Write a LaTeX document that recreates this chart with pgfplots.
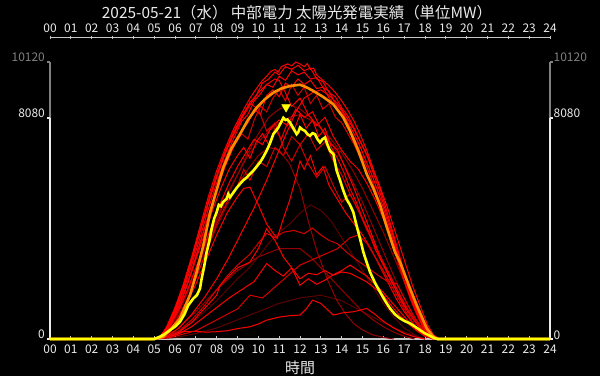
\documentclass[border=0pt]{standalone}
\usepackage{fontspec}
\setmainfont{Noto Sans CJK JP}
\usepackage{pgfplots}
\pgfplotsset{compat=1.18}
\definecolor{axgray}{RGB}{200,200,200}
\definecolor{lblwhite}{RGB}{235,235,235}
\definecolor{dimgray}{RGB}{128,128,128}
\definecolor{colA}{RGB}{255,0,0}
\definecolor{colB}{RGB}{215,0,0}
\definecolor{colC}{RGB}{150,0,0}
\definecolor{colD}{RGB}{95,0,0}
\definecolor{oline}{RGB}{255,140,0}
\definecolor{yline}{RGB}{255,255,0}
\pgfplotsset{
  lnA/.style={color=colA, line width=1bp},
  lnB/.style={color=colB, line width=1bp},
  lnC/.style={color=colC, line width=1bp},
  lnD/.style={color=colD, line width=1bp},
}
\begin{document}
\begin{tikzpicture}
\useasboundingbox (0bp,0bp) rectangle (600bp,376bp);
\fill[black] (0bp,0bp) rectangle (600bp,376bp);
\node[text=lblwhite, font=\fontsize{15.5}{18}\selectfont] at (297bp,363.5bp) {2025-05-21（水） 中部電力 太陽光発電実績（単位MW）};

% top axis
\begin{axis}[at={(50bp,328.3bp)}, anchor=south west, scale only axis,
  width=500bp, height=10bp, xmin=0, xmax=24, ymin=0, ymax=1,
  axis x line*=top, axis y line=none,
  xtick={0,...,24},
  xticklabels={00,01,02,03,04,05,06,07,08,09,10,11,12,13,14,15,16,17,18,19,20,21,22,23,24},
  tick align=center, major tick length=2.5bp,
  x axis line style={axgray, line width=1.3bp},
  xtick style={axgray, line width=1bp},
  xticklabel style={text=lblwhite, font=\fontsize{12}{14}\selectfont},
  ytick=\empty]
\end{axis}

% right axis labels
\begin{axis}[at={(50bp,37bp)}, anchor=south west, scale only axis,
  width=500bp, height=277bp, xmin=0, xmax=24, ymin=0, ymax=10120,
  axis y line*=right, axis x line=none,
  y axis line style={draw=none},
  scaled y ticks=false,
  ytick={0,8080,10120},
  yticklabels={0,8080,\textcolor{dimgray}{10120}},
  ytick style={draw=none},
  yticklabel style={text=lblwhite, font=\fontsize{12}{14}\selectfont, anchor=base west, inner sep=0pt, xshift=3.5bp}]
\end{axis}

% main axis
\begin{axis}[at={(50bp,37bp)}, anchor=south west, scale only axis,
  width=500bp, height=277bp, xmin=0, xmax=24, ymin=0, ymax=10120,
  clip=false,
  axis x line*=bottom, axis y line*=left,
  y axis line style={draw=none},
  x axis line style={axgray, line width=1.5bp},
  scaled y ticks=false,
  xtick={0,...,24},
  xticklabels={00,01,02,03,04,05,06,07,08,09,10,11,12,13,14,15,16,17,18,19,20,21,22,23,24},
  tick align=inside, major tick length=2.5bp,
  xtick style={axgray, line width=1bp},
  ytick={0,8080,10120},
  yticklabels={0,8080,\textcolor{dimgray}{10120}},
  ytick style={draw=none},
  xticklabel style={text=lblwhite, font=\fontsize{12}{14}\selectfont, yshift=-2bp},
  yticklabel style={text=lblwhite, font=\fontsize{12}{14}\selectfont, anchor=base east, inner sep=0pt, xshift=-5bp},
  xlabel={時間},
  xlabel style={text=lblwhite, font=\fontsize{15}{18}\selectfont, yshift=-1bp},
]
\draw[lblwhite, line width=1.6bp] (axis cs:0,0) -- (axis cs:0,8080);
\draw[dimgray, line width=1.6bp] (axis cs:0,8080) -- (axis cs:0,10120);
\draw[lblwhite, line width=1.6bp] (axis cs:24,0) -- (axis cs:24,8080);
\draw[dimgray, line width=1.6bp] (axis cs:24,8080) -- (axis cs:24,10120);
\draw[lblwhite, line width=1.5bp] (axis cs:0,8080) -- ++(-2.5bp,0bp);
\draw[dimgray, line width=1.5bp] (axis cs:0,10120) -- ++(-2.5bp,0bp);
\draw[lblwhite, line width=1.5bp] (axis cs:0,0) -- ++(-2.5bp,0bp);
\draw[lblwhite, line width=1.5bp] (axis cs:24,8080) -- ++(2.5bp,0bp);
\draw[dimgray, line width=1.5bp] (axis cs:24,10120) -- ++(2.5bp,0bp);
\draw[lblwhite, line width=1.5bp] (axis cs:24,0) -- ++(2.5bp,0bp);

% dark curves
\addplot[lnD] coordinates {(5.0,0) (6.0,200) (7.0,700) (8.0,1400) (9.0,2200) (9.5,2550) (10.0,3000) (10.5,3500) (11.0,3900) (11.5,4200) (12.0,4600) (12.5,4900) (13.0,4700) (13.5,4300) (14.0,3700) (14.5,3100) (15.0,2500) (15.5,1900) (16.0,1300) (16.5,800) (17.0,400) (17.5,150) (18.0,0)};
\addplot[lnD] coordinates {(5.0,0) (6.0,50) (7.0,200) (8.0,400) (9.0,700) (10.0,1000) (11.0,1300) (12.0,1500) (13.0,1600) (14.0,1400) (15.0,1000) (16.0,600) (17.0,250) (18.0,0)};
\addplot[lnC] coordinates {(5.0,0) (5.5,150) (6.0,600) (6.5,1300) (7.0,2200) (7.5,3200) (8.0,4100) (8.5,4900) (9.0,5600) (9.5,6200) (10.0,6700) (10.5,7000) (11.0,6900) (11.5,6400) (12.0,5500) (12.4,4300) (12.8,3239) (13.3,2200) (13.76,1419) (14.2,900) (14.6,550) (15.0,327) (15.5,150) (16.0,60) (16.5,0)};
\addplot[lnC] coordinates {(5.0,0) (6.0,300) (7.0,1000) (8.0,1800) (9.0,2500) (10.0,3000) (11.0,3300) (12.0,3300) (12.5,3000) (13.0,2600) (13.5,2200) (14.0,1800) (14.5,1400) (15.0,1000) (15.5,700) (16.0,450) (16.5,250) (17.0,100) (17.5,0)};
\addplot[lnC] coordinates {(5.0,0) (5.5,200) (6.0,800) (6.5,1600) (7.0,2500) (7.5,3500) (8.0,4400) (8.5,5300) (9.0,6000) (9.5,6700) (10.0,7200) (10.5,7600) (11.0,7900) (11.5,8100) (12.0,8200) (12.5,8000) (13.0,7700) (13.5,7300) (14.0,6800) (14.5,6200) (15.0,5500) (15.5,4700) (16.0,3900) (16.5,3000) (17.0,2100) (17.5,1200) (18.0,450) (18.4,50) (18.6,0)};
\addplot[lnC] coordinates {(5.0,0) (5.5,200) (6.0,700) (6.5,1500) (7.0,2400) (7.5,3400) (8.0,4300) (8.5,5200) (9.0,6000) (9.5,6800) (10.0,7500) (10.5,8100) (11.0,8400) (11.5,8550) (12.0,8400) (12.5,8100) (13.0,7700) (13.5,7150) (14.0,6550) (14.5,5800) (15.0,5000) (15.5,4100) (16.0,3200) (16.5,2300) (17.0,1500) (17.5,800) (18.0,250) (18.4,0)};

% medium / cloudy curves
\addplot[lnA] coordinates {(5.0,0) (5.4,100) (5.8,500) (6.2,1100) (6.6,1800) (7.0,2600) (7.4,3400) (7.8,4200) (8.2,5000) (8.6,5700) (9.0,6300) (9.4,6800) (9.8,7300) (10.2,7100) (10.6,7700) (11.0,8000) (11.4,7800) (11.8,8400) (12.2,8100) (12.6,8300) (13.0,7700) (13.4,7200) (13.8,6900) (14.2,6200) (14.6,5500) (15.0,4700) (15.4,3900) (15.8,3100) (16.2,2400) (16.6,1800) (17.0,1200) (17.4,750) (17.8,380) (18.2,120) (18.5,0)};
\addplot[lnB] coordinates {(5.0,0) (5.5,150) (6.0,600) (6.5,1300) (7.0,2200) (7.5,3200) (8.0,4200) (8.5,5000) (9.0,5600) (9.3,6200) (9.6,5800) (10.0,6500) (10.4,6300) (10.8,7000) (11.2,6700) (11.6,7400) (12.0,7100) (12.4,7500) (12.8,6900) (13.2,7200) (13.6,6500) (14.0,6000) (14.4,5300) (14.8,4700) (15.2,4100) (15.6,3400) (16.0,2800) (16.4,2200) (16.8,1600) (17.2,1050) (17.6,600) (18.0,250) (18.4,30) (18.6,0)};
\addplot[lnA] coordinates {(5.0,0) (5.5,100) (6.0,500) (6.5,1200) (7.0,2000) (7.5,2900) (8.0,3800) (8.5,4600) (9.0,5200) (9.3,5500) (9.6,5550) (10.0,4900) (10.4,4200) (10.9,3670) (11.2,4400) (11.5,5058) (11.8,5900) (12.0,6500) (12.2,6200) (12.5,6700) (12.8,6000) (13.1,6300) (13.4,5600) (13.8,5100) (14.2,4600) (14.6,4200) (15.0,3800) (15.4,3300) (15.8,2700) (16.2,2100) (16.6,1500) (17.0,1000) (17.4,600) (17.8,280) (18.2,80) (18.5,0)};
\addplot[lnB] coordinates {(5.0,0) (5.6,80) (6.2,300) (6.8,700) (7.4,1200) (8.0,1800) (8.5,2300) (9.0,2700) (9.6,3100) (10.0,3500) (10.4,3857) (10.8,3700) (11.2,3900) (11.7,3966) (12.2,3850) (12.6,4050) (13.0,3800) (13.4,3600) (13.8,3480) (14.2,3200) (14.6,2950) (15.2,2630) (15.8,2300) (16.2,2100) (16.64,2027) (17.0,1500) (17.4,900) (17.8,450) (18.2,150) (18.5,0)};
\addplot[lnA] coordinates {(5.0,0) (5.6,50) (6.2,200) (6.8,450) (7.4,800) (8.0,1150) (8.6,1500) (9.2,1800) (9.8,2100) (10.4,2755) (10.8,2500) (11.2,2300) (11.6,2600) (12.0,2200) (12.4,2400) (12.8,2350) (13.2,2500) (13.6,2330) (14.0,2450) (14.4,2400) (14.8,2250) (15.2,2085) (15.6,1850) (16.0,1600) (16.4,1200) (16.8,850) (17.2,550) (17.6,300) (18.0,100) (18.4,0)};
\addplot[lnA] coordinates {(5.0,0) (5.6,60) (6.2,250) (6.8,600) (7.4,1100) (8.0,1600) (8.16,1965) (8.6,2300) (9.0,2600) (9.6,2813) (10.0,3300) (10.4,4028) (10.8,3600) (11.2,3000) (11.6,2600) (12.0,1965) (12.4,2200) (12.8,2000) (13.2,2150) (13.6,2350) (14.0,2500) (14.4,2700) (14.8,2500) (15.2,2300) (15.6,2000) (16.0,1700) (16.4,1350) (16.8,1000) (17.2,650) (17.6,350) (18.0,120) (18.4,0)};
\addplot[lnA] coordinates {(5.0,0) (5.8,60) (6.4,266) (7.0,280) (7.5,250) (8.0,266) (8.5,300) (9.0,380) (9.6,448) (10.0,550) (10.4,690) (11.0,800) (11.5,850) (12.0,873) (12.3,1100) (12.6,1419) (13.0,1300) (13.6,873) (14.0,950) (14.6,1000) (15.2,1117) (15.6,900) (16.0,650) (16.5,400) (17.0,200) (17.5,80) (18.0,0)};
\addplot[lnB] coordinates {(5.0,0) (6.0,100) (7.0,300) (8.0,700) (9.0,1100) (9.6,1600) (10.2,1500) (10.8,1900) (11.4,2300) (12.0,2700) (12.6,2900) (13.2,3100) (13.8,3300) (14.4,3700) (14.8,3800) (15.2,3500) (15.6,3000) (16.0,2500) (16.5,1800) (17.0,1100) (17.5,500) (18.0,150) (18.4,0)};
\addplot[lnA] coordinates {(5.0,0) (5.4,120) (5.8,550) (6.2,1200) (6.6,2000) (7.0,2900) (7.4,3800) (7.8,4700) (8.2,5500) (8.6,6200) (9.0,6700) (9.3,7000) (9.6,6600) (9.9,7200) (10.2,7500) (10.5,7100) (10.8,7700) (11.1,7300) (11.4,7900) (11.7,7600) (12.0,8200) (12.3,7700) (12.6,8000) (12.9,7400) (13.2,7700) (13.5,7000) (13.8,6600) (14.1,6100) (14.4,5500) (14.7,5000) (15.0,4400) (15.3,3900) (15.6,3300) (16.0,2700) (16.4,2100) (16.8,1500) (17.2,1000) (17.6,550) (18.0,200) (18.4,20) (18.6,0)};
\addplot[lnB] coordinates {(5.0,0) (5.3,90) (5.6,420) (6.0,1100) (6.4,1950) (6.8,2950) (7.2,4000) (7.6,5050) (8.0,6000) (8.4,6850) (8.8,7550) (9.2,8150) (9.6,8600) (10.0,8400) (10.4,7600) (10.8,7900) (11.2,7000) (11.6,6500) (12.0,7100) (12.4,6400) (12.8,5900) (13.2,6300) (13.6,5600) (14.0,5000) (14.4,5300) (14.8,4700) (15.2,4000) (15.6,3400) (16.0,2800) (16.4,2200) (16.8,1600) (17.2,1000) (17.6,550) (18.0,200) (18.4,20) (18.6,0)};
\addplot[lnA] coordinates {(5.0,0) (5.6,100) (6.2,400) (6.8,900) (7.4,1500) (8.0,2200) (8.6,3000) (9.2,3900) (9.8,4800) (10.4,5800) (11.0,6900) (11.4,7600) (11.8,8300) (12.2,8800) (12.6,9000) (13.0,9100) (13.4,8900) (13.8,8600) (14.2,8150) (14.6,7650) (15.0,7050) (15.4,6400) (15.8,5650) (16.2,4800) (16.6,3850) (17.0,2900) (17.4,1950) (17.8,1150) (18.1,550) (18.4,150) (18.7,0)};

% near-envelope curves
\addplot[lnB] coordinates {(5.0,0) (5.3,50) (5.6,300) (6.0,850) (6.4,1600) (6.8,2500) (7.2,3500) (7.6,4500) (8.0,5450) (8.4,6300) (8.8,7000) (9.2,7500) (9.5,7300) (9.8,8000) (10.1,8500) (10.4,8300) (10.7,8800) (11.0,9100) (11.3,8700) (11.6,9300) (11.9,8900) (12.2,9200) (12.5,8600) (12.8,8900) (13.1,8400) (13.4,8600) (13.7,8100) (14.0,7900) (14.3,7500) (14.6,7100) (14.9,6600) (15.2,6100) (15.5,5500) (15.8,4900) (16.1,4250) (16.4,3550) (16.7,2800) (17.0,2100) (17.3,1450) (17.6,900) (17.9,420) (18.2,130) (18.5,10) (18.7,0)};
\addplot[lnA] coordinates {(5.0,0) (5.3,70) (5.6,380) (6.0,1000) (6.4,1850) (6.8,2850) (7.2,3900) (7.6,4950) (8.0,5900) (8.4,6750) (8.8,7450) (9.2,8050) (9.6,8550) (10.0,9000) (10.4,9300) (10.8,9500) (11.0,9450) (11.3,9000) (11.6,8500) (12.0,8800) (12.4,8200) (12.8,7800) (13.2,8100) (13.6,7400) (14.0,6900) (14.4,6500) (14.8,6200) (15.2,5700) (15.6,5100) (16.0,4400) (16.4,3650) (16.8,2850) (17.2,2050) (17.6,1300) (18.0,600) (18.3,180) (18.6,0)};
\addplot[lnA] coordinates {(5.0,0) (5.3,50) (5.6,300) (6.0,850) (6.4,1600) (6.8,2500) (7.2,3500) (7.6,4500) (8.0,5450) (8.4,6300) (8.8,7000) (9.2,7600) (9.5,7900) (9.8,8400) (10.1,8200) (10.4,8900) (10.7,9100) (11.0,8850) (11.3,9350) (11.6,9200) (11.9,9500) (12.2,9300) (12.5,9450) (12.8,9150) (13.1,9200) (13.4,8800) (13.7,8500) (14.0,8250) (14.3,7700) (14.6,7350) (14.9,6800) (15.2,6300) (15.5,5700) (15.8,5050) (16.1,4400) (16.4,3650) (16.7,2900) (17.0,2150) (17.3,1500) (17.6,950) (17.9,450) (18.2,150) (18.5,15) (18.7,0)};
\addplot[lnA] coordinates {(5.0,0) (5.3,60) (5.6,350) (6.0,950) (6.4,1750) (6.8,2700) (7.2,3700) (7.6,4750) (8.0,5700) (8.4,6550) (8.8,7300) (9.2,7950) (9.5,8200) (9.8,8700) (10.1,8950) (10.4,9300) (10.7,9200) (11.0,9600) (11.3,9450) (11.6,9800) (11.9,9650) (12.2,9750) (12.5,9500) (12.8,9550) (13.1,9200) (13.4,9050) (13.7,8600) (14.0,8350) (14.3,7900) (14.6,7500) (14.9,7000) (15.2,6450) (15.5,5900) (15.8,5250) (16.1,4550) (16.4,3800) (16.7,3050) (17.0,2300) (17.3,1600) (17.6,1000) (17.9,480) (18.2,160) (18.5,20) (18.7,0)};
\addplot[lnA] coordinates {(5.0,0) (5.3,80) (5.6,400) (6.0,1050) (6.4,1900) (6.8,2900) (7.2,3950) (7.6,5000) (8.0,5950) (8.4,6800) (8.8,7500) (9.2,8100) (9.6,8650) (9.9,8900) (10.2,9350) (10.5,9500) (10.8,9750) (11.0,9650) (11.3,9950) (11.6,9850) (11.9,10000) (12.2,9800) (12.5,9900) (12.8,9500) (13.1,9400) (13.4,9000) (13.7,8850) (14.0,8450) (14.3,8150) (14.6,7700) (14.9,7200) (15.2,6750) (15.5,6100) (15.8,5450) (16.1,4700) (16.4,3950) (16.7,3150) (17.0,2400) (17.3,1650) (17.6,1050) (17.9,500) (18.2,180) (18.5,20) (18.7,0)};
\addplot[lnA] coordinates {(5.0,0) (5.3,100) (5.6,450) (6.0,1150) (6.4,2000) (6.8,3000) (7.2,4100) (7.6,5200) (8.0,6150) (8.4,6950) (8.8,7650) (9.2,8250) (9.6,8800) (10.0,9250) (10.2,9450) (10.4,9600) (10.6,9780) (10.8,9850) (10.95,9750) (11.1,9950) (11.25,10000) (11.4,10050) (11.6,9980) (11.8,10120) (12.0,10050) (12.2,9950) (12.35,10060) (12.5,9850) (12.65,9900) (12.8,9650) (13.1,9450) (13.4,9250) (13.7,9000) (14.0,8700) (14.3,8350) (14.6,7950) (14.9,7450) (15.2,6900) (15.5,6250) (15.8,5600) (16.1,4850) (16.4,4050) (16.7,3250) (17.0,2450) (17.3,1700) (17.6,1100) (17.9,550) (18.2,200) (18.5,30) (18.7,0)};

% orange
\addplot[oline, line width=2.6bp] coordinates {(0,0) (5.0,0) (5.44,84) (5.8,350) (6.24,753) (6.72,1601) (7.04,2449) (7.36,3421) (7.68,4600) (7.92,5240) (8.32,6270) (8.7,6950) (9.12,7485) (9.5,8000) (9.92,8453) (10.3,8750) (10.72,9000) (11.1,9150) (11.52,9243) (12.0,9290) (12.3,9200) (12.64,9061) (13.1,8850) (13.6,8577) (14.08,8090) (14.4,7605) (14.8,6878) (15.2,6030) (15.52,5500) (15.84,4900) (16.16,4100) (16.56,3177) (16.8,2813) (17.28,1845) (17.6,1237) (18.08,389) (18.4,84) (18.6,0) (24,0)};

% yellow (today)
\addplot[yline, line width=2.6bp] coordinates {(0,0) (5.0,0) (5.28,84) (5.5,180) (5.76,327) (6.0,450) (6.24,630) (6.45,900) (6.64,1237) (6.88,1480) (7.05,1600) (7.2,1845) (7.28,2209) (7.4,2650) (7.52,3177) (7.64,3550) (7.76,4028) (7.88,4400) (8.0,4633) (8.1,4900) (8.2,4850) (8.3,5000) (8.48,5120) (8.56,5300) (8.64,5178) (8.8,5350) (8.96,5520) (9.12,5666) (9.28,5800) (9.44,5900) (9.6,6030) (9.76,6150) (9.92,6300) (10.08,6452) (10.24,6650) (10.4,6878) (10.56,7150) (10.72,7485) (10.84,7600) (10.96,7726) (11.08,7900) (11.2,8080) (11.3,8000) (11.4,8020) (11.52,7908) (11.68,7700) (11.84,7485) (11.92,7560) (12.0,7726) (12.12,7650) (12.24,7605) (12.36,7480) (12.48,7424) (12.6,7520) (12.72,7485) (12.84,7300) (12.96,7180) (13.08,7300) (13.2,7362) (13.32,7100) (13.44,6878) (13.6,6757) (13.76,6150) (13.92,5800) (14.08,5422) (14.24,5100) (14.4,4900) (14.56,4633) (14.68,4250) (14.8,3905) (14.92,3550) (15.04,3177) (15.2,2800) (15.36,2449) (15.6,2050) (15.84,1721) (16.08,1400) (16.32,1117) (16.56,900) (16.8,753) (17.04,650) (17.28,571) (17.52,450) (17.76,327) (17.96,220) (18.16,146) (18.4,47) (18.6,0) (24,0)};

\addplot[only marks, mark=triangle*, mark size=5bp, mark options={rotate=180, fill=yline, draw=yline}] coordinates {(11.33,8470)};
\end{axis}
\end{tikzpicture}
\end{document}
